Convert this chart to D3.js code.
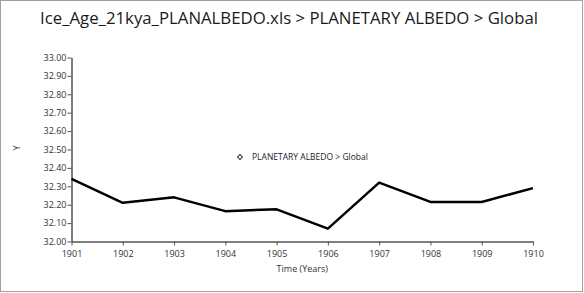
<!DOCTYPE html>
<html>
<head>
<meta charset="utf-8">
<script src="https://cdn.jsdelivr.net/npm/d3@7"></script>
<style>
  body { margin: 0; background: #fff; }
  text { font-family: "Open Sans", "Noto Sans", sans-serif; }
</style>
</head>
<body>
<div id="chart"></div>
<script>
var width = 584;
var height = 293;

// data
var years = [1901, 1902, 1903, 1904, 1905, 1906, 1907, 1908, 1909, 1910];
var albedo = [32.34, 32.21, 32.24, 32.165, 32.175, 32.07, 32.32, 32.215, 32.215, 32.29];
var yTicks = [32.0, 32.1, 32.2, 32.3, 32.4, 32.5, 32.6, 32.7, 32.8, 32.9, 33.0];
var seriesName = "PLANETARY ALBEDO > Global";
var title = "Ice_Age_21kya_PLANALBEDO.xls > PLANETARY ALBEDO > Global";

var svg = d3.select('#chart').append('svg')
    .attr('width', width)
    .attr('height', height);

// outer frame
svg.append('rect')
    .attr('x', 0.5).attr('y', 0.5)
    .attr('width', width - 2).attr('height', height - 2)
    .attr('fill', 'white')
    .attr('stroke', '#a0a0a0');

svg.append('text')
    .attr('x', 40).attr('y', 24)
    .attr('textLength', 498)
    .attr('lengthAdjust', 'spacingAndGlyphs')
    .style('font-size', '16.8px')
    .style('fill', '#1a1a1a')
    .text(title);

var x = d3.scaleLinear().domain([1901, 1910]).range([71.5, 533]);
var y = d3.scaleLinear().domain([32, 33]).range([241.5, 57.5]);

var xAxis = svg.append('g')
    .attr('transform', 'translate(0,' + y(32) + ')')
    .call(d3.axisBottom(x).tickValues(years).tickFormat(d3.format('d')).tickSize(4).tickSizeOuter(0));

var yAxis = svg.append('g')
    .attr('transform', 'translate(' + x(1901) + ',0)')
    .call(d3.axisLeft(y).tickValues(yTicks).tickFormat(d3.format('.2f')).tickSize(4).tickSizeOuter(0));

[xAxis, yAxis].forEach(function (g) {
  g.select('.domain').attr('stroke', '#555').attr('stroke-width', 1.5);
  g.selectAll('.tick line').attr('stroke', '#555');
  g.selectAll('.tick text')
      .style('font-size', '9px')
      .style('fill', '#333')
      .style('font-family', '"Open Sans", sans-serif');
});
xAxis.selectAll('.tick text').attr('dy', '0.95em');
yAxis.selectAll('.tick text').attr('x', -5);

svg.append('text')
    .attr('x', mean(x(1901), x(1910))).attr('y', 272)
    .attr('text-anchor', 'middle')
    .style('font-size', '9px')
    .style('fill', '#333')
    .text('Time (Years)');

svg.append('text')
    .attr('transform', 'translate(20,148) rotate(-90)')
    .attr('text-anchor', 'middle')
    .style('font-size', '9px')
    .style('fill', '#333')
    .text('Y');

function mean(a, b) {
  return (a + b) / 2;
}

var line = d3.line()
    .x(function (d, i) { return x(years[i]); })
    .y(function (d) { return y(d); });

svg.append('path')
    .datum(albedo)
    .attr('d', line)
    .attr('fill', 'none')
    .attr('stroke', 'black')
    .attr('stroke-width', 2.5)
    .attr('stroke-linejoin', 'round');

// legend
svg.append('path')
    .attr('d', d3.symbol().type(d3.symbolSquare).size(12)())
    .attr('transform', 'translate(240,157) rotate(45)')
    .attr('fill', 'white')
    .attr('stroke', '#333');

svg.append('text')
    .attr('x', 252).attr('y', 160)
    .style('font-size', '8.5px')
    .style('fill', '#222')
    .text(seriesName);
</script>
</body>
</html>
